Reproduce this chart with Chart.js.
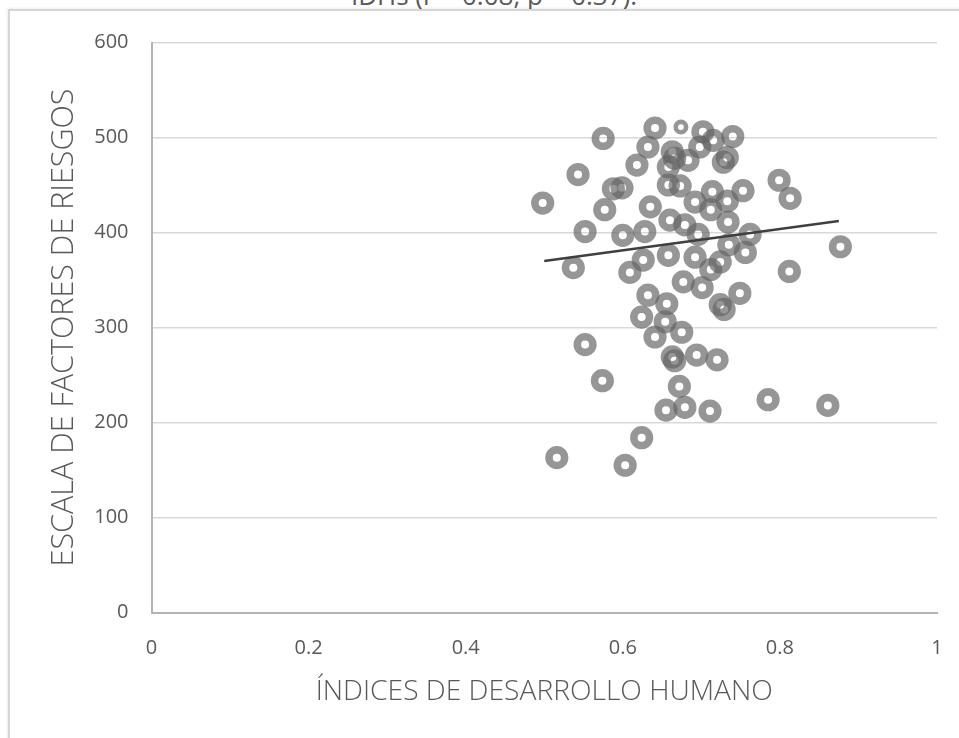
<!DOCTYPE html>
<html>
<head>
<meta charset="utf-8">
<script src="https://cdn.jsdelivr.net/npm/chart.js@4.4.1/dist/chart.umd.min.js"></script>
<style>
  html, body { margin: 0; padding: 0; background: #fff; }
  #wrap { position: relative; width: 959px; height: 738px; overflow: hidden; background: #fff; }
  #frame { position: absolute; left: 8px; top: 9px; width: 980px; height: 760px;
           border-top: 2px solid #d6d6d6; border-left: 2px solid #d6d6d6;
           box-shadow: -1px -1px 2px rgba(0,0,0,0.08); }
  #cap { position: absolute; left: 0; width: 988px; top: -18px; text-align: center;
         font-family: "Open Sans", sans-serif; font-size: 26px; line-height: 26px; color: #595959; }
  canvas { position: absolute; left: 0; top: 0; }
</style>
</head>
<body>
<div id="wrap">
  <div id="cap">IDHs (r = 0.08, p = 0.37).</div>
  <div id="frame"></div>
  <canvas id="c" width="959" height="738"></canvas>
</div>
<script>
// Índice de Desarrollo Humano (x) and Escala de factores de riesgos (y)
const idh = [
  0.498, 0.537, 0.516, 0.552, 0.543, 0.552, 0.575, 0.574, 0.577, 0.588,
  0.599, 0.600, 0.603, 0.609, 0.618, 0.624, 0.624, 0.626, 0.632, 0.632,
  0.635, 0.628, 0.641, 0.641, 0.658, 0.654, 0.656, 0.655, 0.660, 0.658,
  0.658, 0.663, 0.666, 0.663, 0.666, 0.672, 0.673, 0.675, 0.679, 0.677,
  0.679, 0.692, 0.692, 0.694, 0.696, 0.701, 0.702, 0.698, 0.711, 0.714,
  0.712, 0.720, 0.724, 0.712, 0.728, 0.733, 0.724, 0.729, 0.733, 0.734,
  0.735, 0.740, 0.749, 0.753, 0.756, 0.762, 0.785, 0.799, 0.812, 0.813,
  0.861, 0.877, 0.683, 0.715
];
const riesgo = [
  431, 363, 163, 401, 461, 282, 499, 244, 424, 446,
  447, 397, 155, 358, 471, 311, 184, 371, 490, 334,
  427, 401, 510, 290, 469, 306, 325, 213, 413, 450,
  376, 485, 478, 269, 265, 238, 449, 295, 408, 348,
  216, 432, 374, 271, 398, 342, 506, 490, 212, 443,
  424, 266, 369, 361, 474, 479, 324, 319, 433, 411,
  387, 501, 336, 444, 379, 398, 224, 455, 359, 436,
  218, 385, 476, 497
];
// one point drawn with a smaller marker in the original
const idhSmall = [0.674];
const riesgoSmall = [511];
// linear trend line endpoints
const trendX = [0.5, 0.875];
const trendY = [370, 412];

const xTicks = [0, 0.2, 0.4, 0.6, 0.8, 1];
const yTicks = [0, 100, 200, 300, 400, 500, 600];
const xTitle = "ÍNDICES DE DESARROLLO HUMANO";
const yTitle = "ESCALA DE FACTORES DE RIESGOS";

const toPts = (xs, ys) => xs.map((x, i) => ({ x: x, y: ys[i] }));
const ringColor = "rgba(100,100,100,0.68)";
const tickFont = { family: "'Open Sans', sans-serif", size: 20 };
const xTitleFont = { family: "'Open Sans', sans-serif", size: 28.2, weight: 300 };
const yTitleFont = { family: "'Open Sans', sans-serif", size: 30.5, weight: 300 };

new Chart(document.getElementById("c"), {
  data: {
    datasets: [
      {
        type: "line",
        data: toPts(trendX, trendY),
        borderColor: "#3f3f3f",
        borderWidth: 2.5,
        pointRadius: 0,
        fill: false,
        order: 0
      },
      {
        type: "scatter",
        data: toPts(idh, riesgo),
        pointRadius: 7.8,
        pointBorderWidth: 7.6,
        pointBackgroundColor: "rgba(0,0,0,0)",
        pointBorderColor: ringColor,
        order: 1
      },
      {
        type: "scatter",
        data: toPts(idhSmall, riesgoSmall),
        pointRadius: 5.2,
        pointBorderWidth: 4.6,
        pointBackgroundColor: "rgba(0,0,0,0)",
        pointBorderColor: ringColor,
        order: 2
      }
    ]
  },
  options: {
    responsive: false,
    animation: false,
    devicePixelRatio: 1,
    layout: { padding: { top: 42.5, right: 22, left: 0, bottom: 0 } },
    plugins: { legend: { display: false }, tooltip: { enabled: false } },
    scales: {
      x: {
        type: "linear",
        min: 0, max: 1,
        afterFit: (s) => { s.height = 125.5; s.paddingLeft = 0; s.paddingRight = 0; },
        afterBuildTicks: (s) => { s.ticks = xTicks.map(v => ({ value: v })); },
        grid: { display: false, drawTicks: false },
        border: { display: true, color: "#b3b3b3", width: 2 },
        ticks: {
          color: "#595959", font: tickFont, padding: 24, maxRotation: 0,
          callback: (v) => String(v)
        },
        title: { display: true, text: xTitle, color: "#595959", font: xTitleFont, padding: { top: 0, bottom: 29 } }
      },
      y: {
        type: "linear",
        min: 0, max: 600,
        afterFit: (s) => { s.width = 151.5; s.paddingTop = 0; s.paddingBottom = 0; },
        afterBuildTicks: (s) => { s.ticks = yTicks.map(v => ({ value: v })); },
        grid: { color: "#d9d9d9", lineWidth: 1.6, drawTicks: false },
        border: { display: true, color: "#b3b3b3", width: 2 },
        ticks: { color: "#595959", font: tickFont, padding: 23, callback: (v) => String(v) },
        title: { display: true, text: yTitle, color: "#595959", font: yTitleFont, padding: { top: 46, bottom: 0 } }
      }
    }
  }
});
</script>
</body>
</html>
